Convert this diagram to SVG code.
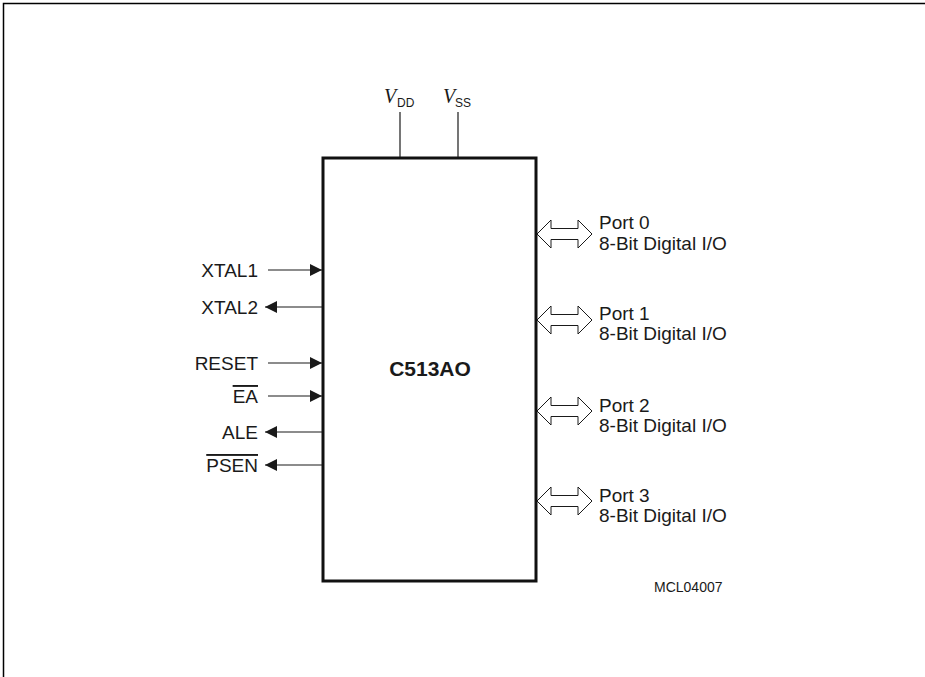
<svg xmlns="http://www.w3.org/2000/svg" width="925" height="677" viewBox="0 0 925 677">
<style>
.t{font-family:"Liberation Sans",Arial,sans-serif;font-size:19px;fill:#1a1a1a}
.s{font-family:"Liberation Sans",Arial,sans-serif;font-size:12px;fill:#1a1a1a}
.v{font-family:"Liberation Serif","Times New Roman",serif;font-style:italic;font-size:20px;fill:#1a1a1a}
.ln{stroke:#1a1a1a;stroke-width:1.2;fill:none}
.dbl{fill:#fff;stroke:#1a1a1a;stroke-width:1}
</style>
<defs>
<marker id="ah" viewBox="0 0 12 12" refX="12" refY="6" markerWidth="12" markerHeight="12" markerUnits="userSpaceOnUse" orient="auto">
<path d="M0,0 L12,6 L0,12 z" fill="#1a1a1a"/>
</marker>
<path id="da" d="M0,0 L14,-14 L14,-5.5 L41,-5.5 L41,-14 L55,0 L41,14 L41,5.5 L14,5.5 L14,14 Z"/>
</defs>
<rect width="925" height="677" fill="#fff"/>
<path d="M3.5,677 V3.5 H925" stroke="#000" stroke-width="1.5" fill="none"/>
<g id="chip">
<rect x="323" y="158" width="213" height="423" fill="#fff" stroke="#111" stroke-width="3"/>
<text x="430" y="376" text-anchor="middle" font-family="Liberation Sans,Arial,sans-serif" font-weight="bold" font-size="21" fill="#1a1a1a">C513AO</text>
</g>
<g id="connectors">
<line class="ln" x1="400" y1="112" x2="400" y2="157"/>
<line class="ln" x1="458" y1="112" x2="458" y2="157"/>
<line class="ln" x1="268" y1="270" x2="322" y2="270" marker-end="url(#ah)"/>
<line class="ln" x1="322" y1="307" x2="265" y2="307" marker-end="url(#ah)"/>
<line class="ln" x1="268" y1="363" x2="322" y2="363" marker-end="url(#ah)"/>
<line class="ln" x1="268" y1="396" x2="322" y2="396" marker-end="url(#ah)"/>
<line class="ln" x1="322" y1="432" x2="265" y2="432" marker-end="url(#ah)"/>
<line class="ln" x1="322" y1="465" x2="265" y2="465" marker-end="url(#ah)"/>
<use href="#da" class="dbl" x="537" y="234"/>
<use href="#da" class="dbl" x="537" y="320"/>
<use href="#da" class="dbl" x="537" y="411"/>
<use href="#da" class="dbl" x="537" y="501"/>
</g>
<g id="vdd"><text class="v" x="384" y="103">V</text><text class="s" x="397" y="107">DD</text></g>
<g id="vss"><text class="v" x="443" y="103">V</text><text class="s" x="455" y="107">SS</text></g>
<g id="xtal1"><text class="t" x="258" y="277" text-anchor="end">XTAL1</text></g>
<g id="xtal2"><text class="t" x="258" y="314" text-anchor="end">XTAL2</text></g>
<g id="reset"><text class="t" x="258" y="370" text-anchor="end">RESET</text></g>
<g id="ea"><text class="t" x="258" y="403" text-anchor="end" text-decoration="overline">EA</text></g>
<g id="ale"><text class="t" x="258" y="439" text-anchor="end">ALE</text></g>
<g id="psen"><text class="t" x="258" y="472" text-anchor="end" text-decoration="overline">PSEN</text></g>
<g id="port0"><text class="t" x="599" y="229">Port 0</text><text class="t" x="599" y="250">8-Bit Digital I/O</text></g>
<g id="port1"><text class="t" x="599" y="320">Port 1</text><text class="t" x="599" y="340">8-Bit Digital I/O</text></g>
<g id="port2"><text class="t" x="599" y="412">Port 2</text><text class="t" x="599" y="432">8-Bit Digital I/O</text></g>
<g id="port3"><text class="t" x="599" y="502">Port 3</text><text class="t" x="599" y="522">8-Bit Digital I/O</text></g>
<g id="label"><text class="s" x="654" y="592" style="font-size:14px">MCL04007</text></g>
</svg>
